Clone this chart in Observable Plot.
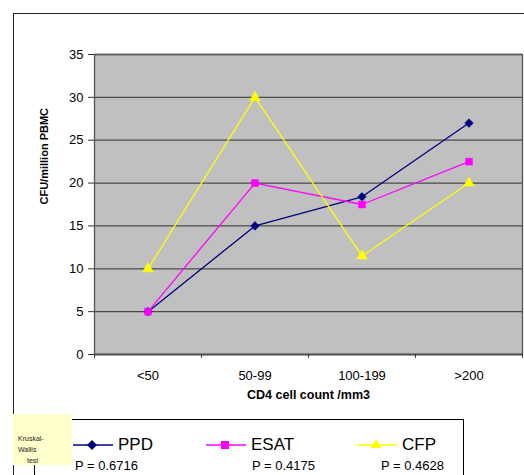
<!DOCTYPE html>
<html>
<head>
<meta charset="utf-8">
<script src="https://cdn.jsdelivr.net/npm/d3@7"></script>
<script src="https://cdn.jsdelivr.net/npm/@observablehq/plot@0.6"></script>
<style>
  html, body { margin: 0; padding: 0; background: #fff; }
  #wrap { position: relative; width: 524px; height: 475px; overflow: hidden; font-family: "Liberation Sans", Arial, sans-serif; }
  #outer { position: absolute; left: 13px; top: 13px; width: 600px; height: 600px; border: 1.5px solid #222; box-sizing: border-box; pointer-events: none; }
  #legend { position: absolute; left: 34px; top: 419px; width: 430px; height: 100px; border: 1px solid #000; background: #fff; box-sizing: border-box; }
  .entry { position: absolute; top: 14px; height: 22px; display: flex; align-items: center; font-size: 17px; color: #000; }
  .pval { position: absolute; top: 38px; font-size: 13px; color: #000; }
  #note { position: absolute; left: 13px; top: 414px; width: 59px; height: 51px; background: #ffffcc; font-size: 7px; line-height: 11px; color: #222; }
</style>
</head>
<body>
<div id="wrap">
  <div id="chart"></div>
  <div id="outer"></div>
  <div id="legend"></div>
  <div id="note"><div style="position:absolute;left:5px;top:19px">Kruskal-</div><div style="position:absolute;left:5px;top:30px">Wallis</div><div style="position:absolute;left:14px;top:41px">test</div></div>
</div>
<script>
const categories = ["<50", "50-99", "100-199", ">200"];
const ppd  = [5, 15, 18.4, 27];
const esat = [5, 20, 17.5, 22.5];
const cfp  = [10, 30, 11.5, 20];
const seriesNames = ["PPD", "ESAT", "CFP"];
const pValues = ["P = 0.6716", "P = 0.4175", "P = 0.4628"];
const yTicks = [0, 5, 10, 15, 20, 25, 30, 35];
const colors = ["#000080", "#ff00ff", "#ffff00"];
const symbols = ["diamond2", "square", "triangle"];

const seriesValues = [ppd, esat, cfp];
const data = [];
seriesNames.forEach((s, i) => categories.forEach((c, j) => data.push({series: s, cat: c, value: seriesValues[i][j]})));

const W = 524, H = 475, ML = 94, MR = 2, MT = 54, MB = 121;
const half = (W - ML - MR) / categories.length / 2;

const plot = Plot.plot({
  width: W, height: H,
  marginLeft: ML, marginRight: MR, marginTop: MT, marginBottom: MB,
  style: {fontFamily: "'Liberation Sans', Arial, sans-serif", background: "transparent", color: "#000"},
  x: {type: "band", domain: categories, padding: 0, label: null},
  y: {domain: [0, 35], label: null},
  color: {domain: seriesNames, range: colors},
  symbol: {domain: seriesNames, range: symbols},
  marks: [
    Plot.frame({fill: "#c0c0c0", stroke: null}),
    Plot.ruleY(yTicks.filter(d => d > 0), {stroke: "#4a4a4a", strokeWidth: 1.3}),
    Plot.frame({stroke: "#555", strokeWidth: 1.3}),
    Plot.ruleY([0], {stroke: "#555", strokeWidth: 2}),
    Plot.ruleX(categories, {x: d => d, dx: -half, y1: 0, y2: -0.45, stroke: "#333"}),
    Plot.ruleX([categories[categories.length - 1]], {x: d => d, dx: half, y1: 0, y2: -0.45, stroke: "#333"}),
    Plot.axisY({ticks: yTicks, tickSize: 6, tickPadding: 5, fontSize: 13, label: null, stroke: "#333"}),
    Plot.axisX({tickSize: 0, tickPadding: 16, fontSize: 13, label: null}),
    Plot.line(data, {x: "cat", y: "value", z: "series", stroke: "series", strokeWidth: 1.3}),
    Plot.dot(data, {x: "cat", y: "value", symbol: "series", fill: "series", stroke: "series", strokeWidth: 0.5, r: 3.9}),
    Plot.text(["CFU/million PBMC"], {frameAnchor: "left", dx: -50, rotate: -90, fontWeight: "bold", fontSize: 11, letterSpacing: "-0.2px", fill: "#000"}),
    Plot.text(["CD4 cell count /mm3"], {frameAnchor: "bottom", dy: 44, fontWeight: "bold", fontSize: 12.5, fill: "#000"})
  ]
});
document.getElementById("chart").appendChild(plot);

// legend
const legend = document.getElementById("legend");
const entryX = [38, 171, 322];
const pX = [40, 217, 346];
const shapes = [
  '<path d="M19 6 L24 11 L19 16 L14 11 Z" fill="#000080"/>',
  '<rect x="15" y="7" width="8" height="8" fill="#ff00ff"/>',
  '<path d="M19 5 L24.5 14 L13.5 14 Z" fill="#ffff00"/>'
];
seriesNames.forEach((s, i) => {
  const e = document.createElement("div");
  e.className = "entry";
  e.style.left = entryX[i] + "px";
  e.innerHTML = `<svg width="40" height="22" style="margin-right:5px"><line x1="0" y1="11" x2="40" y2="11" stroke="${colors[i]}" stroke-width="1.5"/>${shapes[i]}</svg><span>${s}</span>`;
  legend.appendChild(e);
  const p = document.createElement("div");
  p.className = "pval";
  p.style.left = pX[i] + "px";
  p.textContent = pValues[i];
  legend.appendChild(p);
});
</script>
</body>
</html>
